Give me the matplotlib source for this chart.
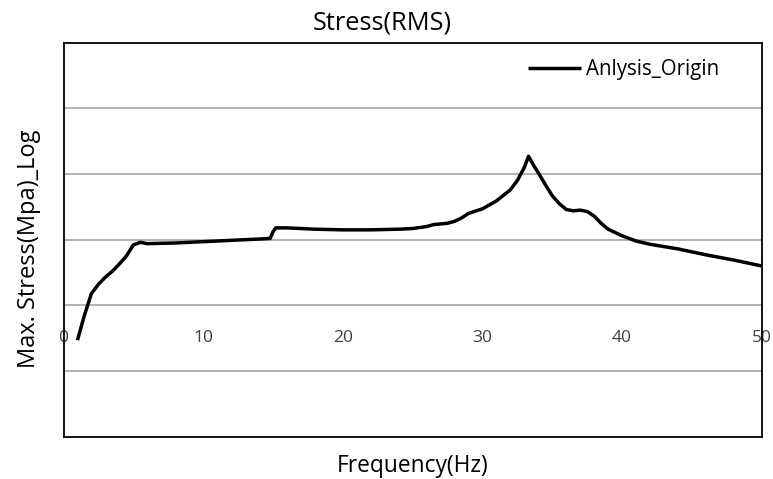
import matplotlib
matplotlib.use("Agg")
import matplotlib.pyplot as plt
import numpy as np

plt.rcParams['font.family'] = ['Open Sans', 'DejaVu Sans']

# Frequency (Hz) and Max stress (log-scaled values)
freq = [1, 1.5, 2, 2.5, 3, 3.5, 4, 4.5, 5, 5.5, 6, 8, 10, 12, 14, 14.8, 15.0, 15.2,
        16, 18, 20, 22, 24, 25, 26, 26.5, 27.5, 28, 28.5, 29, 30, 31, 32, 32.5, 33,
        33.3, 33.7, 34, 34.5, 35, 35.5, 36, 36.5, 37, 37.5, 38, 38.5, 39, 40, 41, 42,
        44, 46, 48, 50]
log_stress = [-1.53, -1.15, -0.82, -0.68, -0.57, -0.48, -0.37, -0.25, -0.08, -0.04,
              -0.06, -0.05, -0.03, -0.01, 0.01, 0.02, 0.12, 0.18,
              0.18, 0.16, 0.15, 0.15, 0.16, 0.17, 0.20, 0.23, 0.25, 0.28, 0.33, 0.40,
              0.47, 0.59, 0.76, 0.90, 1.10,
              1.27, 1.12, 1.02, 0.84, 0.67, 0.55, 0.46, 0.44, 0.45, 0.43, 0.36, 0.25,
              0.16, 0.06, -0.02, -0.07,
              -0.14, -0.23, -0.31, -0.40]
stress = [10 ** v for v in log_stress]

xticks = [0, 10, 20, 30, 40, 50]
series_name = "Anlysis_Origin"

W, H = 773, 479
L, R, T, B = 63.5, 761.7, 42.7, 436.7
fig = plt.figure(figsize=(W / 100, H / 100), dpi=100)
ax = fig.add_axes([L / W, 1 - B / H, (R - L) / W, (B - T) / H])

ax.plot(freq, stress, color='black', lw=2.5, label=series_name,
        solid_joinstyle='round', solid_capstyle='butt')
ax.set_yscale('log')
ax.set_ylim(1e-3, 1e3)
ax.set_xlim(0, 50)
ax.set_yticks([1e-2, 1e-1, 1, 10, 100])
ax.yaxis.set_minor_locator(matplotlib.ticker.NullLocator())
ax.set_yticklabels([])
ax.tick_params(axis='y', length=0)
ax.grid(axis='y', color='#a6a6a6', lw=1.2)
ax.set_axisbelow(True)

ax.set_xticks(xticks)
ax.set_xticklabels([str(t) for t in xticks])
ax.tick_params(axis='x', length=0, pad=-77, labelsize=12.5, colors='#404040')

for s in ax.spines.values():
    s.set_color('black')
    s.set_linewidth(1.3)

fig.text(382.5 / W, 1 - 29 / H, "Stress(RMS)", ha='center', va='baseline',
         fontsize=18.3, color='black')
fig.text(412.5 / W, 1 - 472 / H, "Frequency(Hz)", ha='center', va='baseline',
         fontsize=16.4, color='black')
fig.text(29 / W, 1 - 249 / H, "Max. Stress(Mpa)_Log", ha='center', va='center',
         rotation=90, fontsize=17, color='black')

leg = ax.legend(loc='center left', frameon=False, fontsize=14.8, handlelength=2.6,
                handletextpad=0.24, borderpad=0, borderaxespad=0,
                bbox_to_anchor=((528 - L) / (R - L), (B - 70) / (B - T)))

fig.savefig("out.png", dpi=100)
